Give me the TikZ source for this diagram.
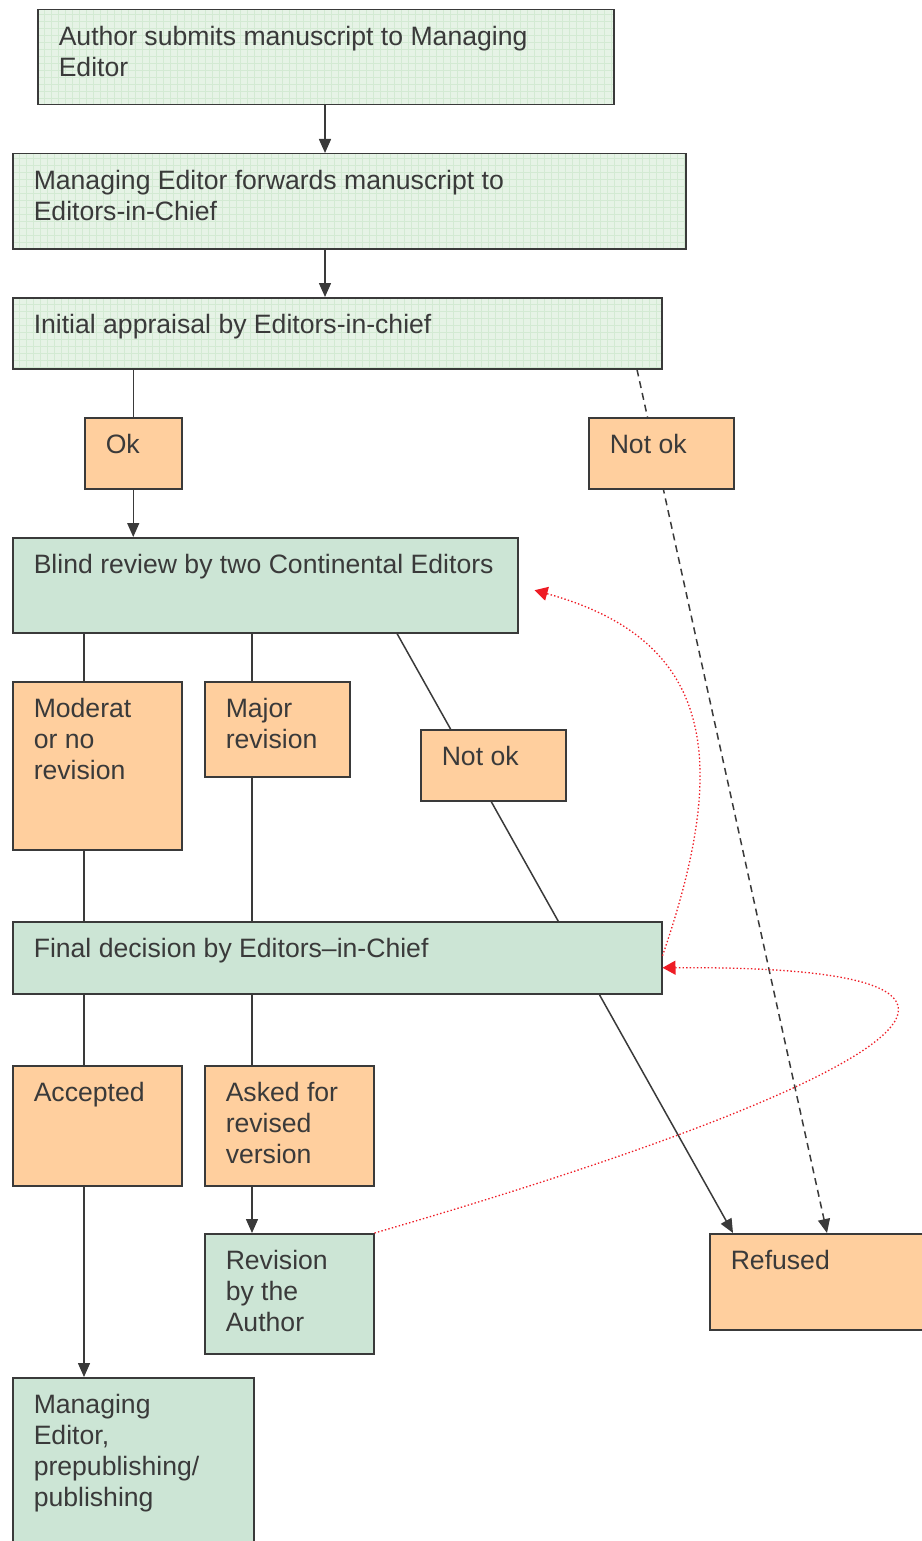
\documentclass[tikz,border=0pt]{standalone}
\usepackage{fontspec}
\setmainfont{Liberation Sans}
\usetikzlibrary{arrows.meta,backgrounds}
\definecolor{boxgreen}{HTML}{CCE5D5}
\definecolor{gridgreen}{HTML}{E6F3E6}
\definecolor{gridline}{HTML}{D3EAD3}
\definecolor{boxorange}{HTML}{FFCF9E}
\definecolor{edgegray}{HTML}{3A3A3A}
\definecolor{linkred}{HTML}{EE1C25}
% box text: fixed size, top left
\newcommand{\cell}[3]{\parbox[c][#2pt][t]{#1pt}{\parindent=0pt\leftskip=21pt\rightskip=0pt plus 1fil\rule{0pt}{36pt}#3}}
\tikzset{
  box/.style={draw=edgegray, line width=1.5pt, inner sep=0pt, anchor=north west,
    text=edgegray, font=\fontsize{26.6}{31}\selectfont},
  gridbox/.style={box, fill=gridgreen, path picture={\draw[gridline, line width=0.6pt, step=7pt]
    (path picture bounding box.south west) grid (path picture bounding box.north east);}},
  greenbox/.style={box, fill=boxgreen},
  orangebox/.style={box, fill=boxorange},
  link/.style={edgegray, line width=1.5pt},
  linkarrow/.style={link, -{Triangle[length=14pt,width=12pt]}},
  back/.style={linkred, line width=1.3pt, dash pattern=on 1.4pt off 2.2pt,
    -{Triangle[length=13pt,width=14pt]}}
}
\begin{document}
\begin{tikzpicture}[x=1pt,y=-1pt]
  \useasboundingbox (0,0) rectangle (921,1541);

  % editors' boxes
  \node[gridbox] (author) at (37,9) {\cell{576}{95}{Author submits manuscript to Managing\\Editor}};
  \node[gridbox] (maned) at (12,153) {\cell{673}{95}{Managing Editor forwards manuscript to\\Editors-in-Chief}};
  \node[gridbox] (init) at (12,297) {\cell{649}{71}{Initial appraisal by Editors-in-chief}};
  \node[orangebox] (ok) at (84,417) {\cell{97}{71}{Ok}};
  \node[orangebox] (notokA) at (588,417) {\cell{145}{71}{Not ok}};
  \node[greenbox] (blind) at (12,537) {\cell{505}{95}{Blind review by two Continental Editors}};
  \node[orangebox] (moder) at (12,681) {\cell{169}{168}{Moderat\\or no\\revision}};
  \node[orangebox] (major) at (204,681) {\cell{145}{95}{Major\\revision}};
  \node[orangebox] (notokB) at (420,729) {\cell{145}{71}{Not ok}};
  \node[greenbox] (final) at (12,921) {\cell{649}{72}{Final decision by Editors--in-Chief}};
  \node[orangebox] (accepted) at (12,1065) {\cell{169}{120}{Accepted}};
  \node[orangebox] (asked) at (204,1065) {\cell{169}{120}{Asked for\\revised\\version}};
  \node[greenbox] (revision) at (204,1233) {\cell{169}{120}{Revision\\by the\\Author}};
  \node[orangebox] (refused) at (709,1233) {\cell{240}{96}{Refused}};
  \node[greenbox] (publish) at (12,1377) {\cell{241}{200}{Managing\\Editor,\\prepublishing/\\publishing}};

  % columns of the connectors
  \coordinate (colA) at (84,0);
  \coordinate (colB) at (252,0);
  \coordinate (colC) at (325,0);
  \coordinate (dashtop) at (637,0);
  \coordinate (dashend) at (827,0);
  \coordinate (slopetop) at (397,0);
  \coordinate (slopeend) at (733,0);

  \begin{pgfonlayer}{background}
    \draw[linkarrow] (author.south -| colC) -- (maned.north -| colC);
    \draw[linkarrow] (maned.south -| colC) -- (init.north -| colC);
    \draw[link] (init.south -| ok.north) -- (ok.north);
    \draw[linkarrow] (ok.south) -- (blind.north -| ok.south);
    \draw[linkarrow, dash pattern=on 7pt off 5pt] (init.south -| dashtop) -- (refused.north -| dashend);
    \draw[link] (blind.south -| colA) -- (final.north -| colA);
    \draw[link] (blind.south -| colB) -- (final.north -| colB);
    \draw[linkarrow] (blind.south -| slopetop) -- (refused.north -| slopeend);
    \draw[link] (final.south -| colA) -- (accepted.north -| colA);
    \draw[linkarrow] (accepted.south -| colA) -- (publish.north -| colA);
    \draw[link] (final.south -| colB) -- (asked.north -| colB);
    \draw[linkarrow] (asked.south -| colB) -- (revision.north -| colB);
  \end{pgfonlayer}

  % loops back
  \draw[back] (revision.north east) .. controls (800,1110) and (1140,965) .. ([yshift=-10pt]final.east);
  \draw[back] ([yshift=2pt]final.east) .. controls (730,760) and (715,640) .. ([xshift=16pt,yshift=-5pt]blind.east);
\end{tikzpicture}
\end{document}
